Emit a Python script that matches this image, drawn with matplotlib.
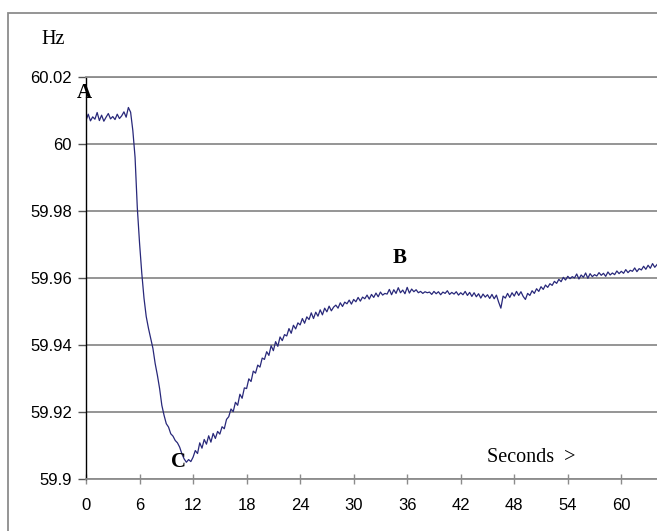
import numpy as np
import matplotlib.pyplot as plt
from matplotlib.patches import Rectangle

# frequency trace, mHz above 59.9 Hz, one sample every 0.25 s
base_hz = 59.9
step_s = 0.25
freq_mhz = [
    107.0, 108.9, 106.9, 108.1, 107.4, 109.4, 107.0, 108.6, 106.8, 108.0, 109.1, 107.5, 108.2, 107.3, 108.9, 107.6,
    108.4, 109.6, 108.0, 110.9, 109.5, 104.0, 96.0, 81.0, 70.5, 61.5, 54.0, 48.5, 45.0, 42.0, 39.0, 34.5,
    31.0, 27.0, 22.0, 19.0, 16.5, 15.5, 13.5, 12.8, 11.5, 10.8, 9.5, 7.5, 6.0, 5.0, 5.8, 5.2,
    6.5, 8.5, 7.6, 10.8, 9.2, 11.8, 10.4, 12.9, 11.0, 13.6, 12.1, 14.2, 13.4, 15.6, 15.0, 17.8,
    18.6, 20.9, 20.1, 22.9, 22.0, 25.3, 24.1, 27.2, 27.0, 29.9, 29.1, 32.2, 31.6, 34.0, 33.4, 36.1,
    35.7, 38.0, 36.9, 39.8, 38.3, 41.0, 39.6, 42.4, 41.3, 43.1, 42.7, 44.9, 43.5, 45.9, 44.8, 46.6,
    46.0, 47.9, 46.5, 48.4, 47.6, 49.6, 47.9, 49.8, 48.6, 50.5, 49.0, 51.0, 49.9, 51.6, 50.2, 51.3,
    51.9, 51.0, 52.6, 51.5, 52.8, 52.3, 53.4, 52.2, 53.6, 52.9, 54.2, 53.1, 54.3, 53.8, 54.9, 53.7,
    55.1, 54.2, 55.5, 54.4, 55.8, 54.9, 55.4, 55.2, 56.6, 55.0, 56.5, 55.4, 57.1, 55.6, 56.4, 55.3,
    57.2, 55.5, 56.7, 55.9, 56.5, 55.6, 56.0, 55.4, 55.9, 55.6, 55.8, 55.1, 56.0, 55.3, 55.9, 55.0,
    55.8, 55.4, 56.2, 55.1, 55.7, 55.2, 55.9, 54.9, 55.6, 55.0, 56.0, 54.8, 55.7, 54.5, 55.6, 54.4,
    55.3, 54.0, 55.2, 54.3, 55.0, 53.9, 55.1, 53.8, 54.9, 52.8, 51.0, 54.6, 54.0, 55.4, 54.2, 55.6,
    54.6, 56.0, 54.8, 55.9, 54.5, 53.6, 55.4, 54.8, 56.2, 55.4, 56.8, 56.0, 57.4, 56.6, 57.9, 57.2,
    58.3, 57.8, 59.0, 58.4, 59.6, 58.9, 60.2, 59.4, 60.5, 59.8, 60.4, 60.0, 61.2, 59.7, 60.9, 60.2,
    61.5, 59.9, 61.3, 60.4, 61.0, 60.6, 61.6, 60.8, 61.4, 60.5, 61.8, 60.9, 61.5, 61.0, 62.1, 61.3,
    62.0, 61.4, 62.5, 61.6, 62.3, 62.0, 63.0, 61.9, 62.8, 62.4, 63.5, 62.6, 63.8, 62.9, 64.3, 63.2,
    64.0,
]

x_ticks = [0, 6, 12, 18, 24, 30, 36, 42, 48, 54, 60]
y_ticks = [59.9, 59.92, 59.94, 59.96, 59.98, 60.0, 60.02]
y_labels = ['59.9', '59.92', '59.94', '59.96', '59.98', '60', '60.02']

# point labels: (text, seconds, Hz)
markers = [('A', -0.2, 60.0152), ('B', 35.2, 59.9661), ('C', 10.4, 59.9052)]

t = np.arange(len(freq_mhz)) * step_s
hz = base_hz + np.array(freq_mhz) / 1000.0

W, H = 657, 531
fig = plt.figure(figsize=(W / 100, H / 100), dpi=100)
fig.patch.set_facecolor('white')

# outer chart frame (cut off at right and bottom)
fig.patches.append(Rectangle((8 / W, -0.2), 1.2, 1.2 - 13 / H, transform=fig.transFigure,
                             fill=False, ec='#8c8c8c', lw=1.3))

ax = fig.add_axes([86 / W, 1 - 479 / H, 1 - 86 / W, (479 - 77) / H])
ax.plot(t, hz, color='#28287a', lw=0.9)

ax.set_xlim(0, 64)
ax.set_ylim(59.9, 60.02)
ax.set_xticks(x_ticks)
ax.set_yticks(y_ticks)
ax.set_yticklabels(y_labels)

ax.set_axisbelow(True)
ax.yaxis.grid(True, color='#8c8c8c', lw=1.3)
ax.spines['right'].set_visible(False)
ax.spines['top'].set_color('#8c8c8c')
ax.spines['top'].set_linewidth(1.3)
ax.spines['bottom'].set_color('#8c8c8c')
ax.spines['bottom'].set_linewidth(1.3)
ax.spines['left'].set_color('black')
ax.spines['left'].set_linewidth(1.0)

for lab in ax.get_xticklabels() + ax.get_yticklabels():
    lab.set_fontfamily('Liberation Sans')
ax.tick_params(axis='y', direction='out', length=6, width=1, color='#555555', pad=4, labelsize=12)
ax.tick_params(axis='x', direction='inout', length=7, width=1, color='#8c8c8c', pad=10, labelsize=12)

serif = 'Liberation Serif'
for name, mx, my in markers:
    ax.text(mx, my, name, fontfamily=serif, fontweight='bold', fontsize=15,
            ha='center', va='center', clip_on=False)

ax.text(49.9, 59.9063, 'Seconds  >', fontfamily=serif, fontsize=14.5, ha='center', va='center')
fig.text(41 / W, 1 - 40 / H, 'Hz', fontfamily=serif, fontsize=14.5, ha='left', va='center')

fig.savefig('out.png', dpi=100)
